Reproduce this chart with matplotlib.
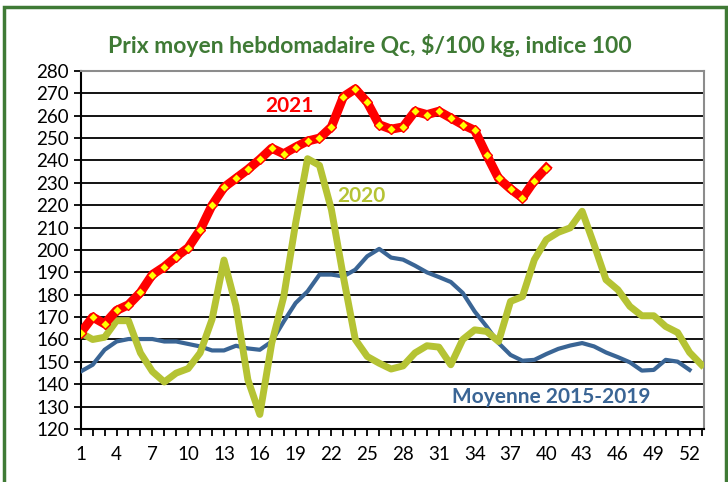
import matplotlib
matplotlib.use("Agg")
import matplotlib.pyplot as plt
from matplotlib.patches import Rectangle

plt.rcParams['font.family'] = ['Lato', 'DejaVu Sans']

# semaines
semaines = list(range(1, 54))

# 2021 (40 semaines)
prix_2021 = [163, 170, 167, 173, 175.5, 181, 189, 192.5, 197, 201,
             209, 220, 228, 232, 236, 240.5, 245.5, 243, 246, 248.7,
             250, 255, 268.5, 272, 266, 256, 254, 255, 262, 260.5,
             262, 259, 256, 253.5, 242.5, 232, 227.3, 223.3, 231, 236.7]

# 2020 (53 semaines)
prix_2020 = [163, 160, 161, 168.4, 168.4, 154, 145.7, 141, 145, 147,
             154, 169, 195.5, 175, 142, 126.5, 158.4, 179, 212, 240.8,
             237.8, 218, 188, 160, 152.4, 149.4, 146.8, 148.2, 154, 157.2,
             156.6, 148.7, 160, 164.3, 163.6, 159.1, 177, 179.2, 195.7, 204.6,
             207.9, 209.9, 217.3, 202.4, 186.7, 182.2, 174.8, 170.6, 170.6, 165.8,
             163.1, 154.2, 148.7]

# Moyenne 2015-2019 (52 semaines)
prix_moy = [145.7, 148.7, 155.4, 159.1, 160.2, 160.2, 160.2, 159.1, 159.1, 158,
            156.9, 155.1, 155.1, 157.2, 156, 155.4, 159.1, 168, 176.3, 181.5,
            189, 189, 188.2, 191.2, 197.2, 200.5, 196.6, 195.7, 193, 190,
            187.9, 185.7, 180.8, 172.5, 165.8, 158.4, 153.1, 150.5, 150.9, 153.5,
            155.8, 157.3, 158.4, 156.9, 154.2, 152.1, 149.8, 146.1, 146.4, 150.9,
            150.1, 146.4]

vert_titre = '#3f7a35'
rouge = '#ff0000'
olive = '#b5c334'
bleu = '#3a6595'

fig = plt.figure(figsize=(7.28, 4.82), dpi=100)
ax = fig.add_axes([0.1109, 0.110, 0.856, 0.7427])

ax.plot(semaines[:len(prix_moy)], prix_moy, color=bleu, lw=3, solid_joinstyle='round', zorder=3)
ax.plot(semaines[:len(prix_2020)], prix_2020, color=olive, lw=5, solid_joinstyle='round', zorder=4)
ax.plot(semaines[:len(prix_2021)], prix_2021, color=rouge, lw=6.5, solid_joinstyle='round', zorder=5,
        marker='D', markersize=5.5, markerfacecolor='#ffff00', markeredgecolor=rouge, markeredgewidth=1)

ax.set_xlim(1, 53.2)
ax.set_ylim(120, 280)
ax.set_yticks(range(120, 281, 10))
ax.set_xticks(semaines)
ax.set_xticklabels([str(s) if (s - 1) % 3 == 0 and s <= 52 else '' for s in semaines])
ax.yaxis.grid(True, color='black', lw=1.3)
ax.set_axisbelow(True)
ax.tick_params(axis='both', direction='out', length=5, width=1.3, labelsize=13.5, colors='black')
ax.tick_params(axis='x', pad=7)
for s in ['left', 'bottom']:
    ax.spines[s].set_linewidth(1.5)
    ax.spines[s].set_color('black')
for s in ['top', 'right']:
    ax.spines[s].set_linewidth(1.5)
    ax.spines[s].set_color('#8c8c8c')

ax.text(18.5, 264.5, '2021', color=rouge, fontsize=15, fontweight='bold', ha='center', va='center')
ax.text(24.5, 224, '2020', color=olive, fontsize=15, fontweight='bold', ha='center', va='center')
ax.text(40.4, 134.5, 'Moyenne 2015-2019', color=bleu, fontsize=15, fontweight='bold', ha='center', va='center')

fig.text(0.508, 0.905, 'Prix moyen hebdomadaire Qc, $/100 kg, indice 100', color=vert_titre,
         fontsize=16.5, fontweight='bold', ha='center', va='center')

fig.patches.append(Rectangle((4 / 728, -0.05), 722 / 728, 1 - 6.5 / 482 + 0.05, transform=fig.transFigure,
                             fill=False, edgecolor=vert_titre, lw=2.5, zorder=10))

fig.savefig('out.png', dpi=100)
